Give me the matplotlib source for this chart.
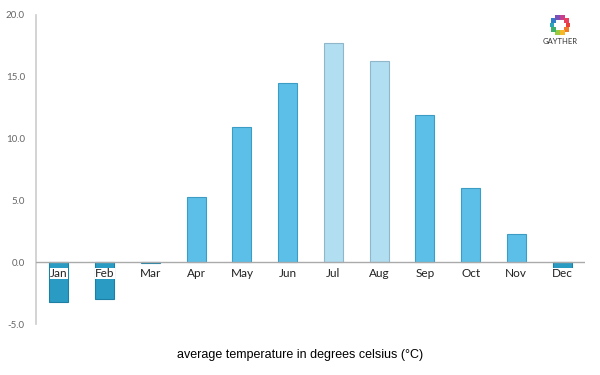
import matplotlib
matplotlib.use("Agg")
import matplotlib.pyplot as plt
import numpy as np

months = ["Jan", "Feb", "Mar", "Apr", "May", "Jun",
          "Jul", "Aug", "Sep", "Oct", "Nov", "Dec"]
temps = [-3.2, -3.0, -0.1, 5.3, 10.9, 14.5, 17.7, 16.3, 11.9, 6.0, 2.3, -0.5]
summer = ["Jul", "Aug"]
y_ticks = [-5.0, 0.0, 5.0, 10.0, 15.0, 20.0]

logo_colors = ["#e8403a", "#f07a2a", "#f4b828", "#9bcb3c", "#3fb06a",
               "#2aa6b8", "#2f7fc8", "#7a4fb6", "#c43f8e", "#e8405e"]

C_POS = "#5bbfe8"
C_LIGHT = "#b2def2"
C_NEG = "#2a9cc4"


def bar_color(month, value):
    if value < 0:
        return C_NEG, "#1d7fa3"
    if month in summer:
        return C_LIGHT, "#8fb7c9"
    return C_POS, "#3d9cc4"


def main():
    fig = plt.figure(figsize=(6, 3.75), dpi=100)
    ax = fig.add_axes([0.06, 0.136, 0.915, 0.824])

    x = np.arange(len(months))
    for xi, m, v in zip(x, months, temps):
        fc, ec = bar_color(m, v)
        ax.bar(xi, v, width=0.42, color=fc, edgecolor=ec, linewidth=0.8, zorder=2)

    ax.set_xlim(-0.5, 11.5)
    ax.set_ylim(-5, 20)
    ax.axhline(0, color="#aaaaaa", linewidth=1, zorder=3)

    for s in ["top", "right", "bottom"]:
        ax.spines[s].set_visible(False)
    ax.spines["left"].set_color("#cccccc")
    ax.spines["left"].set_linewidth(1.2)

    ax.set_xticks([])
    ax.set_yticks(y_ticks)
    ax.set_yticklabels([f"{t:.1f}" for t in y_ticks], color="#666666",
                       fontsize=7, family="Lato")
    ax.tick_params(axis="y", length=0, pad=8)

    for xi, m, v in zip(x, months, temps):
        bbox = None
        if v < -0.3:
            bbox = dict(facecolor="white", edgecolor="none", pad=0.15)
        ax.text(xi, -0.45, m, ha="center", va="top", fontsize=8.5,
                family="Lato", color="#222222", bbox=bbox, zorder=4)

    fig.text(0.5, 0.053, "average temperature in degrees celsius (\u00b0C)",
             ha="center", va="center", fontsize=9, family="Liberation Sans")

    # logo: ring of coloured squares + name
    lax = fig.add_axes([0, 0, 1, 1], zorder=5)
    lax.set_xlim(0, 600)
    lax.set_ylim(375, 0)
    lax.axis("off")
    cx, cy, r = 560, 25, 8
    ang = np.linspace(0, 2 * np.pi, len(logo_colors), endpoint=False)
    lax.scatter(cx + r * np.cos(ang), cy + r * np.sin(ang), s=11,
                c=logo_colors, marker="s", linewidths=0)
    lax.text(cx, 42, "GAYTHER", ha="center", va="center",
             fontsize=5.5, family="Lato", color="#333333")

    fig.savefig("out.png", dpi=100)
    plt.close(fig)


if __name__ == "__main__":
    main()
